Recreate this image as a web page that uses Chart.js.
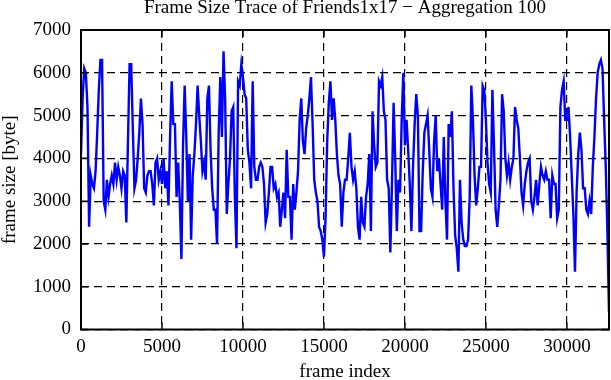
<!DOCTYPE html>
<html><head><meta charset="utf-8">
<script src="https://cdn.jsdelivr.net/npm/chart.js@4.4.0/dist/chart.umd.min.js"></script>
<style>html,body{margin:0;padding:0;background:#fff}canvas{display:block}</style>
</head><body>
<canvas id="c" width="611" height="380"></canvas>
<script>
const AGGREGATION = 100;
const TITLE = 'Frame Size Trace of Friends1x17 \u2212 Aggregation 100';
const X_LABEL = 'frame index';
const Y_LABEL = 'frame size [byte]';
const X_TICKS = [0, 5000, 10000, 15000, 20000, 25000, 30000];
const Y_TICKS = [0, 1000, 2000, 3000, 4000, 5000, 6000, 7000];
const X_MAX = 32600;
// aggregated frame sizes (bytes), one value per 100 frames
const frameSize = [
  4100,5400,6100,6000,5200,2400,3600,3400,3300,3700,
  4600,5600,6300,6300,3000,2800,3500,3100,3400,3600,
  3400,3900,3500,3800,3600,3300,3700,3600,2500,4400,
  6200,6200,4700,3300,3500,4000,4600,5400,4800,3300,
  3200,3600,3700,3700,3400,2900,3900,4000,3500,3700,
  3400,4000,3300,3700,2900,4500,5800,4800,4800,3100,
  3900,3000,1650,4300,5700,4500,3000,4100,2100,3600,
  4100,4800,5700,5000,4400,3700,3900,3500,5400,5700,
  4200,3300,2800,2800,2000,4600,5900,4500,6500,5400,
  2700,3400,4000,5100,5200,3100,1900,5800,5700,6200,
  5900,5500,5400,4200,3900,3300,5800,3800,3500,3500,
  3800,3900,3800,3400,2500,2700,3200,3800,3800,3300,
  3400,3100,3200,2400,2800,3200,2600,4200,3100,3100,
  2100,3400,2800,3200,3700,4900,5400,4400,4100,4700,
  5000,5400,5900,4800,3500,3200,3000,2400,2300,2100,
  1700,2600,4400,5300,5800,4900,5400,4900,4100,3600,
  3400,2400,3200,3500,3500,4000,4600,3800,3500,3700,
  3300,2400,2100,3100,2500,2400,3100,3400,4100,2300,
  5100,4300,3800,3900,5800,5700,5900,5100,4900,3500,
  3300,1800,3400,5300,4000,2300,3500,3200,4900,6000,
  4300,4900,4200,3400,2300,3800,4800,5500,5000,2300,
  2300,3700,4600,4800,5000,4200,3300,3100,4400,5000,
  3700,4000,3400,2800,4500,3000,2100,4800,4500,5100,
  3300,2200,1900,1350,3500,2500,2100,1950,1950,2100,
  3100,5700,4900,3600,2900,3300,3800,3800,5700,5600,
  4900,3900,3400,3200,5600,4300,2800,2400,2900,3500,
  5500,5100,4000,3600,3900,3500,3800,4000,5200,4900,
  4700,4000,3200,2900,3400,3700,3900,4000,3000,2800,
  3100,3500,2900,3400,3800,3600,3500,3700,3500,3500,
  2600,3600,3400,3400,2600,2800,5200,5600,5800,4900,
  4900,5200,4500,3600,2700,1350,3200,4100,4600,4200,
  3300,3300,2800,2700,3000,2700,3800,4500,5400,6000,
  6200,6300,6100,4900,3800,2300,400
];

const points = frameSize.map((v, i) => ({ x: i * AGGREGATION, y: v }));

const FONT = { family: "'Liberation Serif', 'Times New Roman', serif", size: 19, lineHeight: 1 };

const frameTicks = {
  id: 'frameTicks',
  afterDatasetsDraw(chart) {
    const { ctx, chartArea: a, scales } = chart;
    const L = 7;
    ctx.save();
    ctx.strokeStyle = '#000';
    ctx.lineWidth = 1.5;
    ctx.setLineDash([]);
    ctx.beginPath();
    scales.x.ticks.forEach(t => {
      const px = scales.x.getPixelForValue(t.value);
      ctx.moveTo(px, a.bottom); ctx.lineTo(px, a.bottom - L);
      ctx.moveTo(px, a.top); ctx.lineTo(px, a.top + L);
    });
    scales.y.ticks.forEach(t => {
      const py = scales.y.getPixelForValue(t.value);
      ctx.moveTo(a.left, py); ctx.lineTo(a.left + L, py);
      ctx.moveTo(a.right, py); ctx.lineTo(a.right - L, py);
    });
    ctx.stroke();
    ctx.lineWidth = 2;
    ctx.strokeRect(a.left, a.top, a.right - a.left, a.bottom - a.top);
    ctx.restore();
  }
};

new Chart(document.getElementById('c'), {
  type: 'line',
  data: {
    datasets: [{
      data: points,
      borderColor: '#0000ff',
      borderWidth: 2.4,
      pointRadius: 0,
      tension: 0,
      fill: false
    }]
  },
  options: {
    responsive: false,
    animation: false,
    devicePixelRatio: 1,
    layout: { padding: { left: 0, right: 2, top: 0, bottom: 0 } },
    plugins: {
      legend: { display: false },
      tooltip: { enabled: false },
      title: {
        display: true, text: TITLE, color: '#000', fullSize: false,
        font: { family: FONT.family, size: 19, weight: 'normal', lineHeight: 0.8 },
        padding: { top: 0, bottom: 14.8 }
      }
    },
    scales: {
      x: {
        type: 'linear', min: 0, max: X_MAX,
        afterBuildTicks: ax => { ax.ticks = X_TICKS.map(v => ({ value: v })); },
        ticks: { padding: 8, color: '#000', font: FONT, maxRotation: 0, autoSkip: false, callback: v => String(v) },
        grid: { color: '#000', lineWidth: 1.2, drawTicks: false },
        border: { display: false, dash: [8, 5] },
        title: { display: true, text: X_LABEL, color: '#000', padding: 0,
                 font: { family: FONT.family, size: 19, lineHeight: 15.5 / 19 } }
      },
      y: {
        type: 'linear', min: 0, max: 7000,
        afterBuildTicks: ax => { ax.ticks = Y_TICKS.map(v => ({ value: v })); },
        ticks: { padding: 10, color: '#000', font: FONT, autoSkip: false, callback: v => String(v) },
        grid: { color: '#000', lineWidth: 1.2, drawTicks: false },
        border: { display: false, dash: [8, 5] },
        title: { display: true, text: Y_LABEL, color: '#000', padding: { top: 0.5, bottom: 3.5 },
                 font: { family: FONT.family, size: 19, lineHeight: 1 } }
      }
    }
  },
  plugins: [frameTicks]
});
</script>
</body></html>
